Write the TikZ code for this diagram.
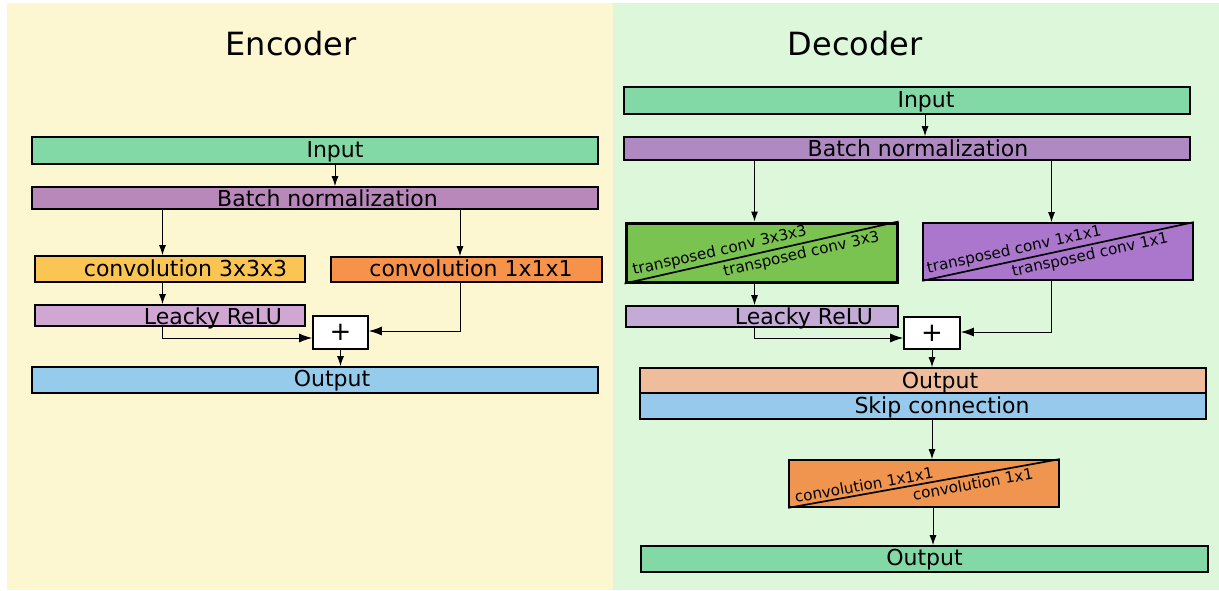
\documentclass[tikz,border=0pt]{standalone}
\usepackage{fontspec}
\setmainfont{DejaVu Sans}
\usepackage{xcolor}
\usepackage{tikz}
\usetikzlibrary{arrows.meta}
\usetikzlibrary{positioning}
\usetikzlibrary{calc}
\definecolor{encbg}{HTML}{FDF7D1}
\definecolor{decbg}{HTML}{DCF7D9}
\definecolor{inp}{HTML}{83D9A6}
\definecolor{encbn}{HTML}{B988BB}
\definecolor{decbn}{HTML}{AF8AC2}
\definecolor{convthree}{HTML}{FAC552}
\definecolor{convone}{HTML}{F7924B}
\definecolor{encrelu}{HTML}{D0A7D2}
\definecolor{decrelu}{HTML}{C4ABD7}
\definecolor{encout}{HTML}{95CBEB}
\definecolor{tconvthree}{HTML}{7AC351}
\definecolor{tconvone}{HTML}{AB77CC}
\definecolor{decout}{HTML}{F0BD9C}
\definecolor{skipcon}{HTML}{96C9EB}
\definecolor{convfin}{HTML}{F0954F}
\def\px{0.5pt}

\begin{document}
\begin{tikzpicture}[
  x=0.5pt, y=-0.5pt,
  dep/.style ={
    -{Latex[length=5pt,width=3.5pt]},line width=0.5pt
  },
  sumdep/.style ={
    -{Latex[length=6.5pt,width=4.5pt]},line width=0.5pt
  },
  blk/.style n args={3}{
    rectangle,
    draw=black,
    line width=0.85pt,
    fill=#1,
    minimum width=#2*\px,
    minimum height=#3*\px,
    inner sep=0pt},
  txt/.style={
    anchor=base,
    font=\fontsize{11}{13}\selectfont},
  ttl/.style={
    anchor=base,
    font=\fontsize{16}{19}\selectfont},
  diag/.style={
    sloped,
    inner sep=1.2pt,
    font=\fontsize{7.6}{9}\selectfont},
]

  \useasboundingbox (0,0) rectangle (1219,590);

    % Backgrounds
  \fill[encbg] (7,3) rectangle (613,590);
  \fill[decbg] (613,3) rectangle (1219,590);
  \node[ttl] (enctitle) at (291,55) {Encoder};
  \node[ttl] (dectitle) at (855,55) {Decoder};

    % Encoder blocks
  \node[blk={inp}{566}{27}] (ein) at (315,150.5) {};
  \node[txt] at (335,157) {Input};
  \node[blk={encbn}{566}{22}] (ebn) at (315,198) {};
  \node[txt] at (327.5,206) {Batch normalization};
  \node[blk={convthree}{270}{26}] (econv3) at (170,269) {};
  \node[txt] at (185.5,276) {convolution 3x3x3};
  \node[blk={convone}{271}{25}] (econv1) at (466.5,269.5) {};
  \node[txt] at (471,276) {convolution 1x1x1};
  \node[blk={encrelu}{270}{21}] (erelu) at (170,315.5) {};
  \node[txt] at (213,324) {Leacky ReLU};
  \node[blk={white}{55}{33},font=\fontsize{13}{15}\selectfont] (eplus) at (340.5,332.5) {+};
  \node[blk={encout}{566}{26}] (eout) at (315,380) {};
  \node[txt] at (332,386) {Output};

  \draw[dep] ($(ein.south)+(20,0)$) -- ($(ebn.north)+(20,0)$);
  \coordinate (e3in) at ($(econv3.north)+(-7.5,0)$);
  \coordinate (e1in) at ($(econv1.north)+(-6.5,0)$);
  \draw[dep] (ebn.south -| e3in) -- (e3in);
  \draw[dep] (ebn.south -| e1in) -- (e1in);
  \draw[dep] ($(econv3.south)+(-7.5,0)$) -- ($(erelu.north)+(-7.5,0)$);
  \draw[sumdep] ($(erelu.south)+(-8,0)$) |- ($(eplus.west)+(0,5.5)$);
  \draw[sumdep] ($(econv1.south)+(-6.5,0)$) |- ($(eplus.east)+(0,-1.5)$);
  \draw[dep] (eplus.south) -- (eout.north -| eplus.south);

    % Decoder blocks
  \node[blk={inp}{566}{27}] (din) at (907,100.5) {};
  \node[txt] at (926,107) {Input};
  \node[blk={decbn}{566}{23}] (dbn) at (907,148.5) {};
  \node[txt] at (918,156) {Batch normalization};
  \node[blk={tconvthree}{271}{59},line width=1.5pt] (dtc3) at (761.5,252.5) {};
  \draw[line width=0.85pt] (dtc3.south west) -- (dtc3.north east)
      node[diag,pos=0.356,above] (dtc3up) {transposed conv 3x3x3}
      node[diag,pos=0.637,below] (dtc3lo) {transposed conv 3x3};
  \node[blk={tconvone}{270}{57}] (dtc1) at (1058,251.5) {};
  \draw[line width=0.85pt] (dtc1.south west) -- (dtc1.north east)
      node[diag,pos=0.347,above] (dtc1up) {transposed conv 1x1x1}
      node[diag,pos=0.61,below] (dtc1lo) {transposed conv 1x1};
  \node[blk={decrelu}{272}{21}] (drelu) at (762,316.5) {};
  \node[txt] at (804,324) {Leacky ReLU};
  \node[blk={white}{56}{32},font=\fontsize{13}{15}\selectfont] (dplus) at (932,333) {+};
  \node[blk={decout}{566}{25}] (dout) at (923,380.5) {};
  \node[txt] at (940,388) {Output};
  \node[blk={skipcon}{566}{26}] (dskip) at (923,406) {};
  \node[txt] at (942,413) {Skip connection};
  \node[blk={convfin}{270}{47}] (dconv) at (924,483.5) {};
  \draw[line width=0.85pt] (dconv.south west) -- (dconv.north east)
      node[diag,pos=0.285,above] (dconvup) {convolution 1x1x1}
      node[diag,pos=0.674,below] (dconvlo) {convolution 1x1};
  \node[blk={inp}{567}{26}] (dfin) at (924.5,559) {};
  \node[txt] at (924.5,565) {Output};

  \draw[dep] ($(din.south)+(18,0)$) -- ($(dbn.north)+(18,0)$);
  \coordinate (d3in) at ($(dtc3.north)+(-7,0)$);
  \coordinate (d1in) at ($(dtc1.north)+(-6.5,0)$);
  \draw[dep] (dbn.south -| d3in) -- (d3in);
  \draw[dep] (dbn.south -| d1in) -- (d1in);
  \draw[dep] ($(dtc3.south)+(-7,0)$) -- ($(drelu.north)+(-7.5,0)$);
  \draw[sumdep] ($(drelu.south)+(-8,0)$) |- ($(dplus.west)+(0,5)$);
  \draw[sumdep] ($(dtc1.south)+(-6.5,0)$) |- ($(dplus.east)+(0,-1)$);
  \draw[dep] (dplus.south) -- (dout.north -| dplus.south);
  \draw[dep] ($(dskip.south)+(9,0)$) -- ($(dconv.north)+(8,0)$);
  \draw[dep] ($(dconv.south)+(9,0)$) -- ($(dfin.north)+(8.5,0)$);

\end{tikzpicture}
\end{document}
